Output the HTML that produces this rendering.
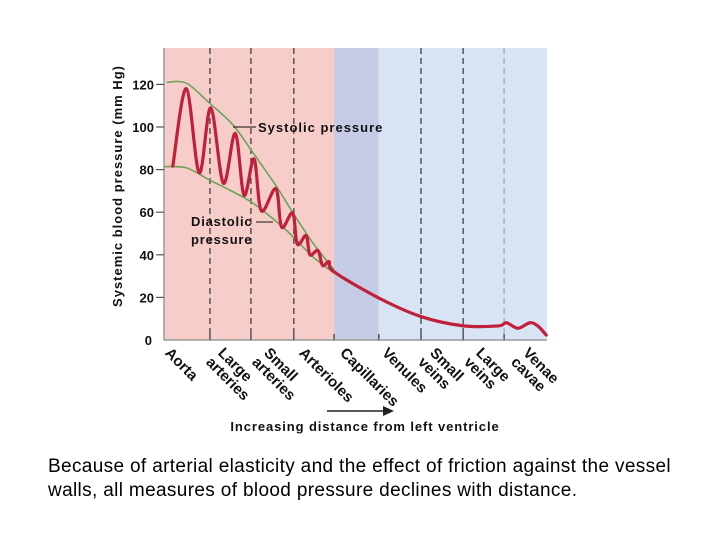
<!DOCTYPE html>
<html><head><meta charset="utf-8"><style>
body{margin:0;width:720px;height:540px;background:#fff;overflow:hidden;font-family:"Liberation Sans",Arial,sans-serif;}
svg{position:absolute;left:0;top:0}
.cap{position:absolute;left:48px;top:455px;font-size:19px;letter-spacing:0.35px;line-height:24px;color:#000;white-space:nowrap}
</style></head><body>
<svg width="720" height="540">
<g id="bg"></g><g id="grid"></g><g id="axes"></g><g id="series"></g><g id="labels"></g>
</svg>
<div class="cap">Because of arterial elasticity and the effect of friction against the vessel<br>walls, all measures of blood pressure declines with distance.</div>
<script>
// data
const yTicks=[0,20,40,60,80,100,120];
const categories=["Aorta","Large\narteries","Small\narteries","Arterioles","Capillaries","Venules","Small\nveins","Large\nveins","Venae\ncavae"];
const pressureX=[2.3,5.8,9.2,12.2,15.5,18.6,20.9,23.5,25.4,29.2,30.7,33.6,34.8,37.1,38.1,40.2,41.4,43.1,44.4,56.1,67.1,78.0,87.2,89.4,92.4,95.5,97.6,99.8];
const pressureY=[81.6,118,78.5,109,73.6,97,68,85,60.7,71,53,59.6,45,49,40,42,35,36.8,32,19.7,11,6.7,6.6,8.1,5.5,8.1,6.6,2.3];
const systolicX=[0.7,5.9,12,18,23.2,29.4,33.7,38.9,44.4];
const systolicY=[121,120.5,111,101,88,72,59.6,45.5,33];
const diastolicX=[0,5.9,12,18,23.2,29.4,33.7,38.9,44.4];
const diastolicY=[81.4,80.8,75,69.6,64.3,55.5,48.5,39,31.4];
const boundaries=[12,22.7,33.9,44.4,56.1,67.1,78.1,88.8];

const X0=164,X1=547,Y0=340,PY=2.13;
const sx=d=>X0+d*(X1-X0)/100;
const sy=v=>Y0-v*PY;
const NS="http://www.w3.org/2000/svg";
function mk(tag,parent,attrs){const e=document.createElementNS(NS,tag);for(const k in attrs)e.setAttribute(k,attrs[k]);document.getElementById(parent).appendChild(e);return e;}
// backgrounds
let r=mk('rect','bg',{x:X0,y:48,width:sx(44.4)-X0,height:Y0-48,fill:'#f7cdc9'});


r=mk('rect','bg',{x:sx(44.4),y:48,width:sx(56.1)-sx(44.4),height:Y0-48,fill:'#c6cce6'});


r=mk('rect','bg',{x:sx(56.1),y:48,width:X1-sx(56.1),height:Y0-48,fill:'#d8e4f4'});


boundaries.forEach((b,i)=>{
  if(i===3||i===4)return;
  const l=mk('line','grid',{x1:sx(b),x2:sx(b),y1:48,y2:Y0,stroke:i===7?'#9aa':'#333','stroke-width':1.2,'stroke-dasharray':'6,4'});
  
  
});
boundaries.forEach(b=>{mk('line','axes',{x1:sx(b),x2:sx(b),y1:Y0-6,y2:Y0+1,stroke:'#333','stroke-width':1.2});});
// axes
let a=mk('line','axes',{x1:X0,x2:X0,y1:48,y2:Y0,stroke:'#999','stroke-width':1.5});


a=mk('line','axes',{x1:X0,x2:X1,y1:Y0,y2:Y0,stroke:'#999','stroke-width':1.5});


yTicks.forEach(v=>{
  if(v>0)mk('line','axes',{x1:X0-8,x2:X0,y1:sy(v),y2:sy(v),stroke:'#555','stroke-width':1.2});
  const t=mk('text','axes',{x:v>0?X0-10:152,y:sy(v)+5,'text-anchor':'end','font-size':13,'font-weight':'bold',fill:'#111'});
  t.textContent=v;
  
  
});
const yt=mk('text','axes',{x:0,y:0,transform:'translate(122,186) rotate(-90)','text-anchor':'middle','font-size':13,'font-weight':'bold',fill:'#111','letter-spacing':'1'});
yt.textContent='Systemic blood pressure (mm Hg)';


// smooth path
function smooth(xs,ys){const p=xs.map((x,i)=>[sx(x),sy(ys[i])]);let d='M'+p[0][0]+','+p[0][1];
 for(let i=0;i<p.length-1;i++){const p0=p[i-1]||p[i],p1=p[i],p2=p[i+1],p3=p[i+2]||p2;
  d+=' C'+(p1[0]+(p2[0]-p0[0])/6)+','+(p1[1]+(p2[1]-p0[1])/6)+' '+(p2[0]-(p3[0]-p1[0])/6)+','+(p2[1]-(p3[1]-p1[1])/6)+' '+p2[0]+','+p2[1];}
 return d;}
let s=mk('path','series',{d:smooth(systolicX,systolicY),fill:'none',stroke:'#6aa45a','stroke-width':1.6});


s=mk('path','series',{d:smooth(diastolicX,diastolicY),fill:'none',stroke:'#6aa45a','stroke-width':1.6});


s=mk('path','series',{d:smooth(pressureX,pressureY),fill:'none',stroke:'#c0203c','stroke-width':3.2,'stroke-linejoin':'round','stroke-linecap':'round'});


// annotations
mk('line','labels',{x1:233,x2:256,y1:127,y2:127,stroke:'#111','stroke-width':1});
let t=mk('text','labels',{x:258,y:132,'font-size':13,'font-weight':'bold',fill:'#111','letter-spacing':'1'});t.textContent='Systolic pressure';


mk('line','labels',{x1:256,x2:273,y1:222,y2:222,stroke:'#111','stroke-width':1});
t=mk('text','labels',{x:191,y:226,'font-size':13,'font-weight':'bold',fill:'#111','letter-spacing':'0.8'});t.textContent='Diastolic';


t=mk('text','labels',{x:191,y:244,'font-size':13,'font-weight':'bold',fill:'#111','letter-spacing':'0.8'});t.textContent='pressure';
const catX=[172,225,271,306,347,389,437,483,530];
categories.forEach((c,i)=>{
  const g=mk('text','labels',{transform:'translate('+catX[i]+',346) rotate(45)','font-size':15,'font-weight':'bold',fill:'#111'});
  
  
  c.split('\n').forEach((ln,j)=>{const sp=document.createElementNS(NS,'tspan');sp.setAttribute('x',j*-2);sp.setAttribute('y',11+j*15);sp.textContent=ln;g.appendChild(sp);});
});
mk('line','labels',{x1:327,x2:385,y1:411,y2:411,stroke:'#222','stroke-width':1.5});
mk('polygon','labels',{points:'383,406 394,411 383,416',fill:'#222'});
t=mk('text','labels',{x:365,y:431,'text-anchor':'middle','font-size':13,'font-weight':'bold',fill:'#111','letter-spacing':'0.9'});t.textContent='Increasing distance from left ventricle';


</script>
</body></html>
